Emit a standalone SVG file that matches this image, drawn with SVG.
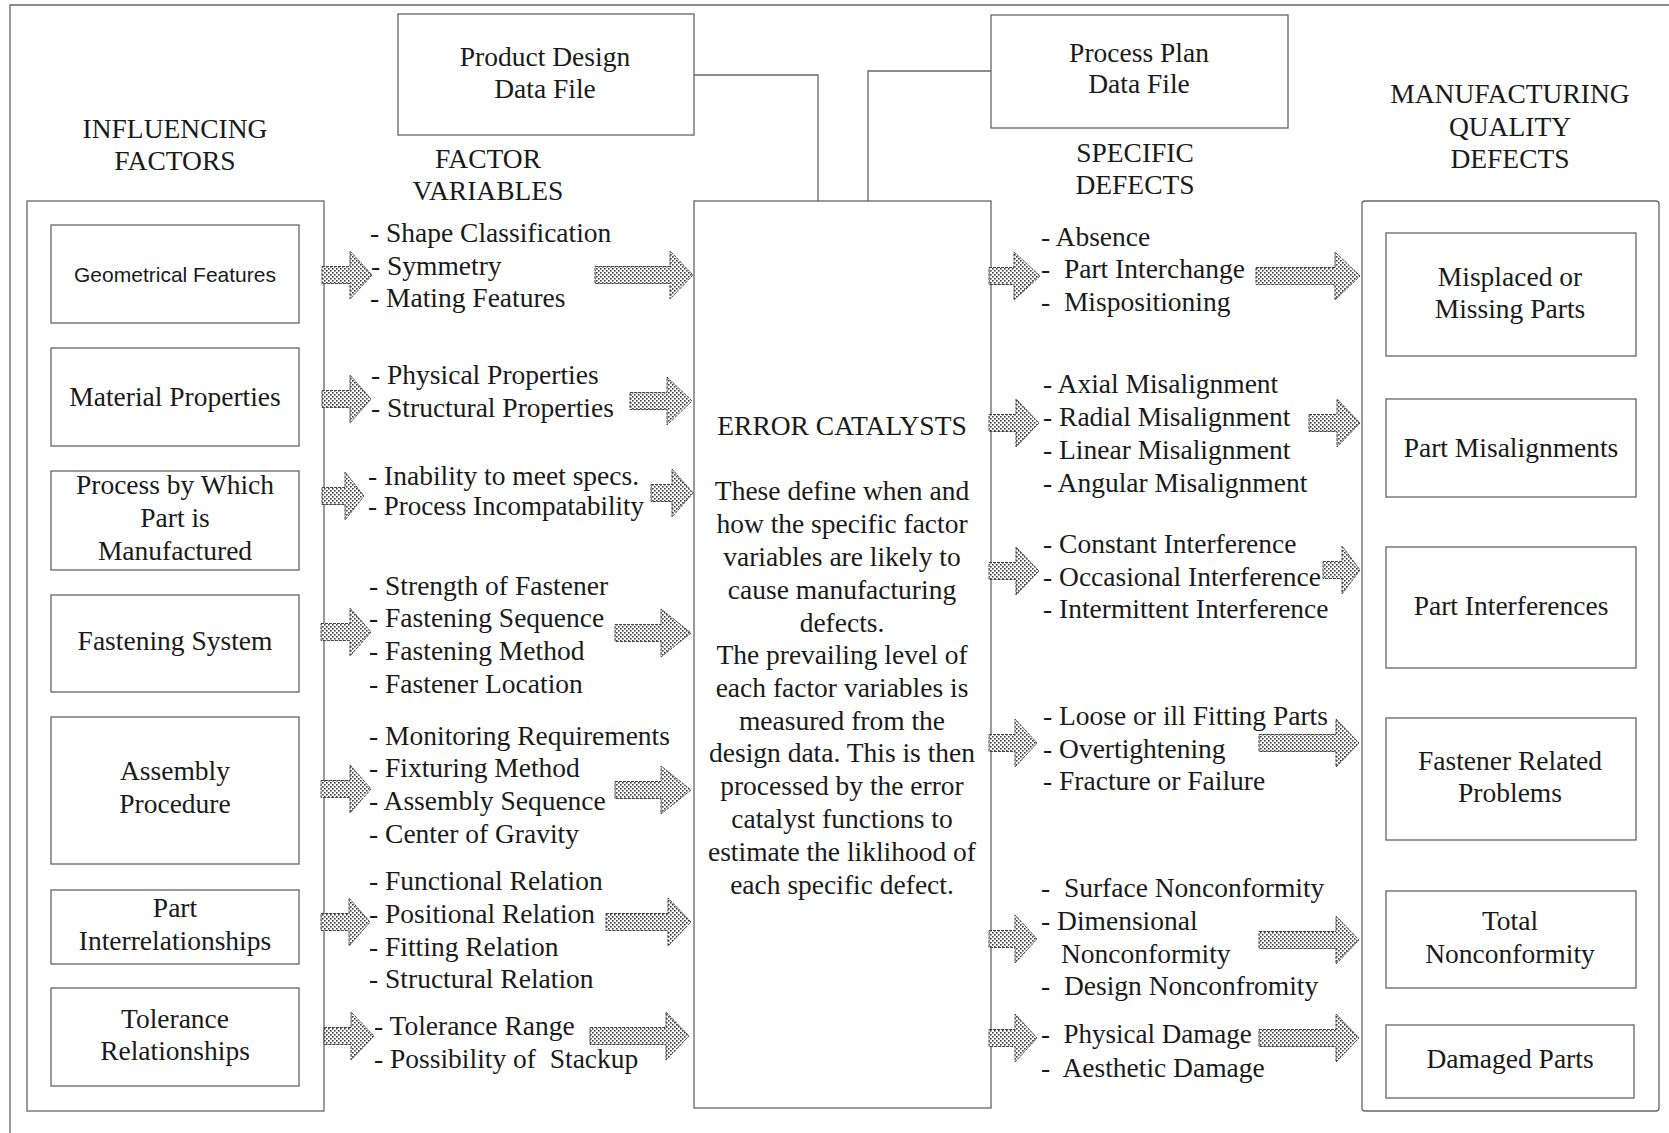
<svg xmlns="http://www.w3.org/2000/svg" width="1669" height="1133" viewBox="0 0 1669 1133">
<defs>
<pattern id="dots" width="4" height="4" patternUnits="userSpaceOnUse">
<rect width="4" height="4" fill="#fff"/>
<rect x="0" y="0" width="1.6" height="1.6" fill="#3a3a3a"/>
<rect x="2" y="2" width="1.6" height="1.6" fill="#3a3a3a"/>
</pattern>
</defs>
<style>
.bx{fill:none;stroke:#666;stroke-width:1.3}
.ln{fill:none;stroke:#666;stroke-width:1.3}
.arr{fill:url(#dots);stroke:#444;stroke-width:1;stroke-dasharray:3 1}
text{font-family:"Liberation Serif","Times New Roman",serif;font-size:27.5px;fill:#1a1a1a}
.c{text-anchor:middle}
.sans{font-family:"Liberation Sans",Arial,sans-serif;font-size:21px}
.pre{white-space:pre}
.n{font-size:27px}
</style>
<rect width="1669" height="1133" fill="#fff"/>
<path class="ln" d="M10,1133 V5 H1669"/>

<g id="headings">
<text class="c" x="175" y="138">INFLUENCING</text>
<text class="c" x="175" y="170">FACTORS</text>
<text class="c" x="488" y="168">FACTOR</text>
<text class="c" x="488" y="200">VARIABLES</text>
<text class="c" x="1135" y="162">SPECIFIC</text>
<text class="c" x="1135" y="194">DEFECTS</text>
<text class="c" x="1510" y="103">MANUFACTURING</text>
<text class="c" x="1510" y="136">QUALITY</text>
<text class="c" x="1510" y="168">DEFECTS</text>
</g>

<g id="product-design">
<rect class="bx" x="398" y="14" width="296" height="121"/>
<text class="c" x="545" y="66">Product Design</text>
<text class="c" x="545" y="98">Data File</text>
</g>
<g id="process-plan">
<rect class="bx" x="991" y="15" width="297" height="113"/>
<text class="c" x="1139" y="62">Process Plan</text>
<text class="c" x="1139" y="93">Data File</text>
</g>

<g id="influencing-factors">
<rect class="bx" x="27" y="201" width="297" height="910"/>
<g id="geometrical-features">
<rect class="bx" x="51" y="225" width="248" height="98"/>
<text class="c sans" x="175" y="282">Geometrical Features</text>
</g>
<g id="material-properties">
<rect class="bx" x="51" y="348" width="248" height="98"/>
<text class="c" x="175" y="406">Material Properties</text>
</g>
<g id="process-by-which">
<rect class="bx" x="51" y="471" width="248" height="99"/>
<text class="c" x="175" y="494">Process by Which</text>
<text class="c" x="175" y="527">Part is</text>
<text class="c" x="175" y="560">Manufactured</text>
</g>
<g id="fastening-system">
<rect class="bx" x="51" y="595" width="248" height="97"/>
<text class="c" x="175" y="650">Fastening System</text>
</g>
<g id="assembly-procedure">
<rect class="bx" x="51" y="717" width="248" height="147"/>
<text class="c" x="175" y="780">Assembly</text>
<text class="c" x="175" y="813">Procedure</text>
</g>
<g id="part-interrelationships">
<rect class="bx" x="51" y="890" width="248" height="74"/>
<text class="c" x="175" y="917">Part</text>
<text class="c" x="175" y="950">Interrelationships</text>
</g>
<g id="tolerance-relationships">
<rect class="bx" x="51" y="988" width="248" height="98"/>
<text class="c" x="175" y="1028">Tolerance</text>
<text class="c" x="175" y="1060">Relationships</text>
</g>
</g>

<g id="factor-variables">
<text x="370" y="242">- Shape Classification</text>
<text x="371" y="275">- Symmetry</text>
<text x="370" y="307">- Mating Features</text>
<text x="371" y="384">- Physical Properties</text>
<text x="371" y="417">- Structural Properties</text>
<text x="368" y="485">- Inability to meet specs.</text>
<text class="n" x="368" y="515">- Process Incompatability</text>
<text x="369" y="595">- Strength of Fastener</text>
<text x="369" y="627">- Fastening Sequence</text>
<text x="369" y="660">- Fastening Method</text>
<text x="369" y="693">- Fastener Location</text>
<text x="369" y="745">- Monitoring Requirements</text>
<text x="369" y="777">- Fixturing Method</text>
<text x="369" y="810">- Assembly Sequence</text>
<text x="369" y="843">- Center of Gravity</text>
<text x="369" y="890">- Functional Relation</text>
<text x="369" y="923">- Positional Relation</text>
<text x="369" y="956">- Fitting Relation</text>
<text x="369" y="988">- Structural Relation</text>
<text x="374" y="1035">- Tolerance Range</text>
<text class="pre" x="374" y="1068">- Possibility of  Stackup</text>
</g>

<g id="error-catalysts">
<rect class="bx" x="694" y="201" width="297" height="907"/>
<text class="c" x="842" y="435">ERROR CATALYSTS</text>
<text class="c" x="842" y="500">These define when and</text>
<text class="c" x="842" y="533">how the specific factor</text>
<text class="c" x="842" y="566">variables are likely to</text>
<text class="c" x="842" y="599">cause manufacturing</text>
<text class="c" x="842" y="632">defects.</text>
<text class="c" x="842" y="664">The prevailing level of</text>
<text class="c" x="842" y="697">each factor variables is</text>
<text class="c" x="842" y="730">measured from the</text>
<text class="c" x="842" y="762">design data. This is then</text>
<text class="c" x="842" y="795">processed by the error</text>
<text class="c" x="842" y="828">catalyst functions to</text>
<text class="c" x="842" y="861">estimate the liklihood of</text>
<text class="c" x="842" y="894">each specific defect.</text>
</g>

<g id="specific-defects">
<text x="1041" y="246">- Absence</text>
<text class="pre" x="1041" y="278">-  Part Interchange</text>
<text class="pre" x="1041" y="311">-  Mispositioning</text>
<text x="1043" y="393">- Axial Misalignment</text>
<text x="1043" y="426">- Radial Misalignment</text>
<text x="1043" y="459">- Linear Misalignment</text>
<text x="1043" y="492">- Angular Misalignment</text>
<text x="1043" y="553">- Constant Interference</text>
<text x="1043" y="586">- Occasional Interference</text>
<text x="1043" y="618">- Intermittent Interference</text>
<text x="1043" y="725">- Loose or ill Fitting Parts</text>
<text x="1043" y="758">- Overtightening</text>
<text x="1043" y="790">- Fracture or Failure</text>
<text class="pre" x="1041" y="897">-  Surface Nonconformity</text>
<text x="1041" y="930">- Dimensional</text>
<text x="1061" y="963">Nonconformity</text>
<text class="pre" x="1041" y="995">-  Design Nonconfromity</text>
<text class="pre n" x="1041" y="1043">-  Physical Damage</text>
<text class="pre" x="1041" y="1077">-  Aesthetic Damage</text>
</g>

<g id="quality-defects">
<rect class="bx" x="1362" y="201" width="297" height="910" rx="3"/>
<g id="misplaced-missing">
<rect class="bx" x="1386" y="233" width="250" height="123"/>
<text class="c" x="1510" y="286">Misplaced or</text>
<text class="c" x="1510" y="318">Missing Parts</text>
</g>
<g id="part-misalignments">
<rect class="bx" x="1386" y="399" width="250" height="98"/>
<text class="c" x="1511" y="457">Part Misalignments</text>
</g>
<g id="part-interferences">
<rect class="bx" x="1386" y="547" width="250" height="121"/>
<text class="c" x="1511" y="615">Part Interferences</text>
</g>
<g id="fastener-problems">
<rect class="bx" x="1386" y="718" width="250" height="122"/>
<text class="c" x="1510" y="770">Fastener Related</text>
<text class="c" x="1510" y="802">Problems</text>
</g>
<g id="total-nonconformity">
<rect class="bx" x="1386" y="891" width="250" height="97"/>
<text class="c" x="1510" y="930">Total</text>
<text class="c" x="1510" y="963">Nonconformity</text>
</g>
<g id="damaged-parts">
<rect class="bx" x="1386" y="1025" width="248" height="73"/>
<text class="c" x="1510" y="1068">Damaged Parts</text>
</g>
</g>

<g id="connectors">
<path class="ln" d="M694,75 H818 V201"/>
<path class="ln" d="M991,71 H868 V201"/>
<polygon class="arr" points="322,266.5 350,266.5 350,251 372,275 350,299 350,283.5 322,283.5"/>
<polygon class="arr" points="322,390.5 350,390.5 350,375 371,399 350,423 350,407.5 322,407.5"/>
<polygon class="arr" points="322,487.5 345,487.5 345,472 364,496 345,520 345,504.5 322,504.5"/>
<polygon class="arr" points="321,623.5 350,623.5 350,608 371,632 350,656 350,640.5 321,640.5"/>
<polygon class="arr" points="321,780.5 350,780.5 350,765 371,789 350,813 350,797.5 321,797.5"/>
<polygon class="arr" points="321,913.5 349,913.5 349,898 370,922 349,946 349,930.5 321,930.5"/>
<polygon class="arr" points="324,1027.5 351,1027.5 351,1012 374,1036 351,1060 351,1044.5 324,1044.5"/>
<polygon class="arr" points="595,266.5 670,266.5 670,251 693,275 670,299 670,283.5 595,283.5"/>
<polygon class="arr" points="630,392.5 667,392.5 667,377 692,401 667,425 667,409.5 630,409.5"/>
<polygon class="arr" points="651,484.5 672,484.5 672,469 693,493 672,517 672,501.5 651,501.5"/>
<polygon class="arr" points="615,624.5 661,624.5 661,609 691,633 661,657 661,641.5 615,641.5"/>
<polygon class="arr" points="615,781.5 661,781.5 661,766 691,790 661,814 661,798.5 615,798.5"/>
<polygon class="arr" points="606,913.5 668,913.5 668,898 691,922 668,946 668,930.5 606,930.5"/>
<polygon class="arr" points="590,1027.5 666,1027.5 666,1012 689,1036 666,1060 666,1044.5 590,1044.5"/>
<polygon class="arr" points="989,267.5 1014,267.5 1014,252 1040,276 1014,300 1014,284.5 989,284.5"/>
<polygon class="arr" points="989,414.5 1016,414.5 1016,399 1039,423 1016,447 1016,431.5 989,431.5"/>
<polygon class="arr" points="989,562.5 1016,562.5 1016,547 1039,571 1016,595 1016,579.5 989,579.5"/>
<polygon class="arr" points="989,734.5 1015,734.5 1015,719 1037,743 1015,767 1015,751.5 989,751.5"/>
<polygon class="arr" points="989,930.5 1015,930.5 1015,915 1037,939 1015,963 1015,947.5 989,947.5"/>
<polygon class="arr" points="989,1029.5 1015,1029.5 1015,1014 1037,1038 1015,1062 1015,1046.5 989,1046.5"/>
<polygon class="arr" points="1256,267.5 1335,267.5 1335,252 1360,276 1335,300 1335,284.5 1256,284.5"/>
<polygon class="arr" points="1309,414.5 1337,414.5 1337,399 1360,423 1337,447 1337,431.5 1309,431.5"/>
<polygon class="arr" points="1323,561.5 1342,561.5 1342,546 1360,570 1342,594 1342,578.5 1323,578.5"/>
<polygon class="arr" points="1259,734.5 1336,734.5 1336,719 1359,743 1336,767 1336,751.5 1259,751.5"/>
<polygon class="arr" points="1259,931.5 1336,931.5 1336,916 1359,940 1336,964 1336,948.5 1259,948.5"/>
<polygon class="arr" points="1259,1029.5 1336,1029.5 1336,1014 1359,1038 1336,1062 1336,1046.5 1259,1046.5"/>
</g>
</svg>
